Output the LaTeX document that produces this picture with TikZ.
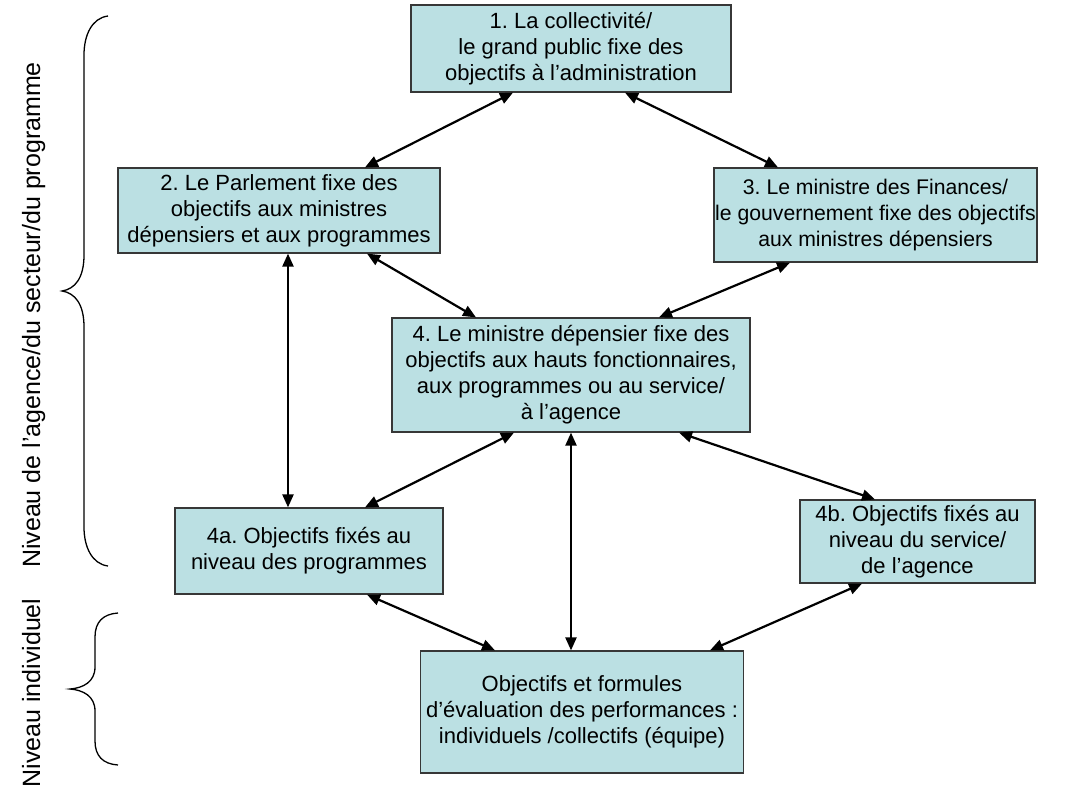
\documentclass[tikz,border=0pt]{standalone}
\usepackage{fontspec}
\setmainfont{Liberation Sans}
\usetikzlibrary{arrows.meta}
\frenchspacing
\definecolor{boxfill}{RGB}{187,224,227}
\definecolor{boxline}{RGB}{55,55,55}
\tikzset{
  box/.style={draw=boxline, line width=1.2pt, fill=boxfill, align=center, inner sep=0pt, font=\fontsize{22}{26}\selectfont},
  arr/.style={line width=2.2pt, {Triangle[length=13pt,width=11pt]}-{Triangle[length=13pt,width=11pt]}},
  bracel/.style={line width=1.3pt},
  side/.style={rotate=90, anchor=base, font=\fontsize{25}{28}\selectfont}
}
\begin{document}
\begin{tikzpicture}[x=1pt,y=-1pt]
\fill[white] (0,0) rectangle (1070,789);
\useasboundingbox (0,0) rectangle (1070,789);

\node[box, minimum width=320pt, minimum height=87pt] (n1) at (571,48.5)
  {1. La collectivité/\\le grand public fixe des\\objectifs à l’administration};
\node[box, minimum width=322pt, minimum height=85pt] (n2) at (279,210.5)
  {2. Le Parlement fixe des\\objectifs aux ministres\\dépensiers et aux programmes};
\node[box, minimum width=323pt, minimum height=94pt, font=\fontsize{21.2}{26}\selectfont] (n3) at (875.5,215)
  {3. Le ministre des Finances/\\le gouvernement fixe des objectifs\\aux ministres dépensiers};
\node[box, minimum width=358pt, minimum height=114pt] (n4) at (571,375)
  {4. Le ministre dépensier fixe des\\objectifs aux hauts fonctionnaires,\\aux programmes ou au service/\\à l’agence};
\node[box, minimum width=268pt, minimum height=86pt] (n4a) at (309,551)
  {4a. Objectifs fixés au\\niveau des programmes};
\node[box, minimum width=235pt, minimum height=83pt] (n4b) at (917.5,541.5)
  {4b. Objectifs fixés au\\niveau du service/\\de l’agence};
\node[box, minimum width=323pt, minimum height=122pt] (n5) at (582,712)
  {Objectifs et formules\\d’évaluation des performances :\\individuels /collectifs (équipe)};

\draw[arr] ([xshift=-58pt]n1.south) -- ([xshift=86pt]n2.north);
\draw[arr] ([xshift=54pt]n1.south) -- ([xshift=-97.5pt]n3.north);
\draw[arr] ([xshift=88pt]n2.south) -- ([xshift=-95pt]n4.north);
\draw[arr] ([xshift=-85.5pt]n3.south) -- ([xshift=88pt]n4.north);
\draw[arr] ([xshift=9pt]n2.south) -- ([xshift=9pt]n2.south |- n4a.north);
\draw[arr] ([xshift=-57pt]n4.south) -- ([xshift=56pt]n4a.north);
\draw[arr] ([xshift=108pt]n4.south) -- ([xshift=-42.5pt]n4b.north);
\draw[arr] (n4.south) -- (n4.south |- n5.north);
\draw[arr] ([xshift=58pt]n4a.south) -- ([xshift=-87pt]n5.north);
\draw[arr] ([xshift=-55.5pt]n4b.south) -- ([xshift=128pt]n5.north);

\draw[bracel] (108,16) .. controls (92,18) and (84,35) .. (84,55) -- (84,255)
  .. controls (84,278) and (75,289) .. (62,291)
  .. controls (75,293) and (84,304) .. (84,327) -- (84,527)
  .. controls (84,547) and (92,564) .. (108,566);
\draw[bracel] (118,613) .. controls (103,614) and (95,622) .. (95,637) -- (95,667)
  .. controls (95,682) and (83,688) .. (70,689)
  .. controls (83,690) and (95,696) .. (95,711) -- (95,741)
  .. controls (95,756) and (103,764) .. (118,765);

\node[side] (l1) at (40,315) {Niveau de l’agence/du secteur/du programme};
\node[side] (l2) at (40,693) {Niveau individuel};
\end{tikzpicture}
\end{document}
